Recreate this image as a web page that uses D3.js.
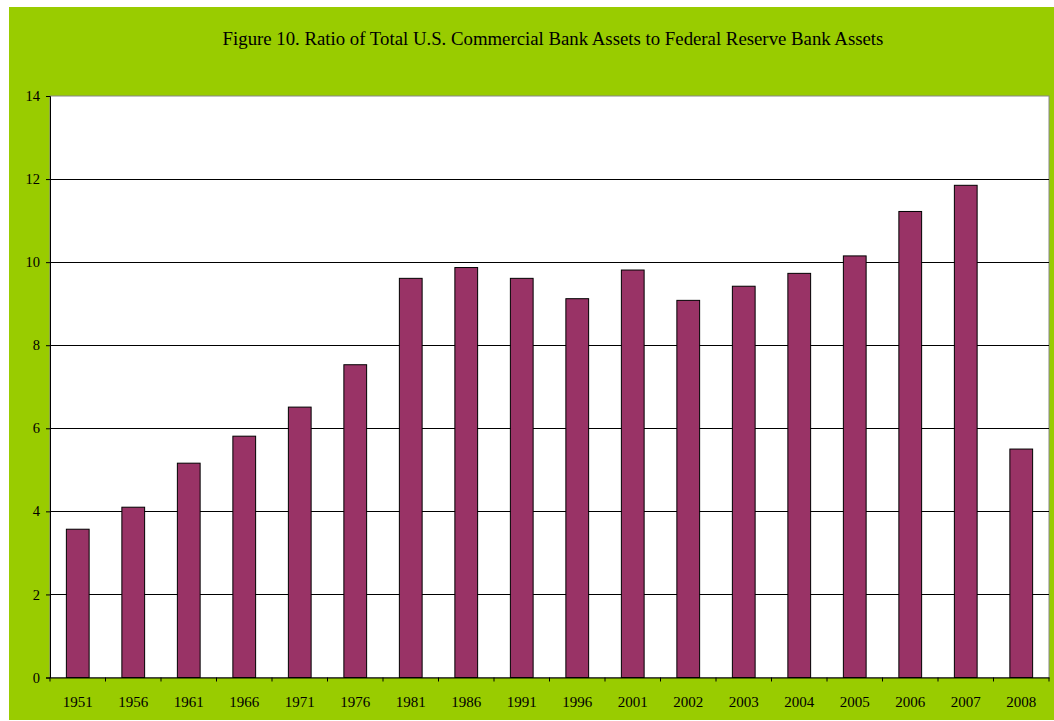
<!DOCTYPE html>
<html><head><meta charset="utf-8">
<script src="https://cdn.jsdelivr.net/npm/d3@7"></script>
<style>body{margin:0;background:#fff;}svg{display:block;}</style>
</head><body>
<svg id="c" width="1054" height="721"></svg>
<script>
const categories = ["1951","1956","1961","1966","1971","1976","1981","1986","1991","1996","2001","2002","2003","2004","2005","2006","2007","2008"];
const values = [3.57,4.1,5.16,5.81,6.51,7.53,9.61,9.87,9.61,9.12,9.81,9.08,9.42,9.73,10.15,11.22,11.85,5.5];
const yTicks = [0,2,4,6,8,10,12,14];
const title = "Figure 10. Ratio of Total U.S. Commercial Bank Assets to Federal Reserve Bank Assets";

const svg = d3.select("#c");
const font = "'Liberation Serif','Times New Roman',serif";
svg.append("rect").attr("x",9).attr("y",7).attr("width",1045).attr("height",713).attr("fill","#99CC00");

const L=50,R=1049,T=96,B=677.5;
const x = d3.scaleBand().domain(categories).range([L,R]).paddingInner(0.59).paddingOuter(0.295);
const xb = d3.scaleBand().domain(categories).range([L,R]);
const y = d3.scaleLinear().domain([0,14]).range([B,T]);

svg.append("rect").attr("x",L).attr("y",T).attr("width",R-L).attr("height",B-T).attr("fill","#fff").attr("stroke","#888").attr("stroke-width",1);

svg.append("g").selectAll("line").data(yTicks.filter(d=>d>0&&d<14)).join("line")
  .attr("x1",L).attr("x2",R).attr("y1",d=>Math.round(y(d))+0.5).attr("y2",d=>Math.round(y(d))+0.5)
  .attr("stroke","#000").attr("stroke-width",1);

svg.append("g").selectAll("rect").data(values).join("rect")
  .attr("x",(d,i)=>x(categories[i])).attr("width",x.bandwidth())
  .attr("y",d=>y(d)).attr("height",d=>B-y(d))
  .attr("fill","#993366").attr("stroke","#000").attr("stroke-width",1);

// y axis
const ya = svg.append("g").attr("transform",`translate(${L},0)`)
  .call(d3.axisLeft(y).tickValues(yTicks).tickSize(4).tickPadding(6).tickFormat(d3.format("d")));
ya.select(".domain").attr("stroke","#000");
ya.selectAll("line").attr("stroke","#000");
ya.selectAll("text").attr("font-family",font).attr("font-size",14.5).attr("fill","#000");

// x axis
const xa = svg.append("g").attr("transform",`translate(0,${B})`)
  .call(d3.axisBottom(xb).tickSize(0).tickPadding(19).tickSizeOuter(0));
xa.select(".domain").attr("stroke","#000");
xa.selectAll("text").attr("font-family",font).attr("font-size",15).attr("fill","#000");
svg.append("g").selectAll("line").data(categories.slice(0).concat(["end"])).join("line")
  .attr("x1",(d,i)=>L+i*xb.step()).attr("x2",(d,i)=>L+i*xb.step())
  .attr("y1",B).attr("y2",B+4).attr("stroke","#000");

svg.append("text").attr("x",553).attr("y",45).attr("text-anchor","middle")
  .attr("font-family",font).attr("font-size",18.8).attr("fill","#000").text(title);
</script>
</body></html>
